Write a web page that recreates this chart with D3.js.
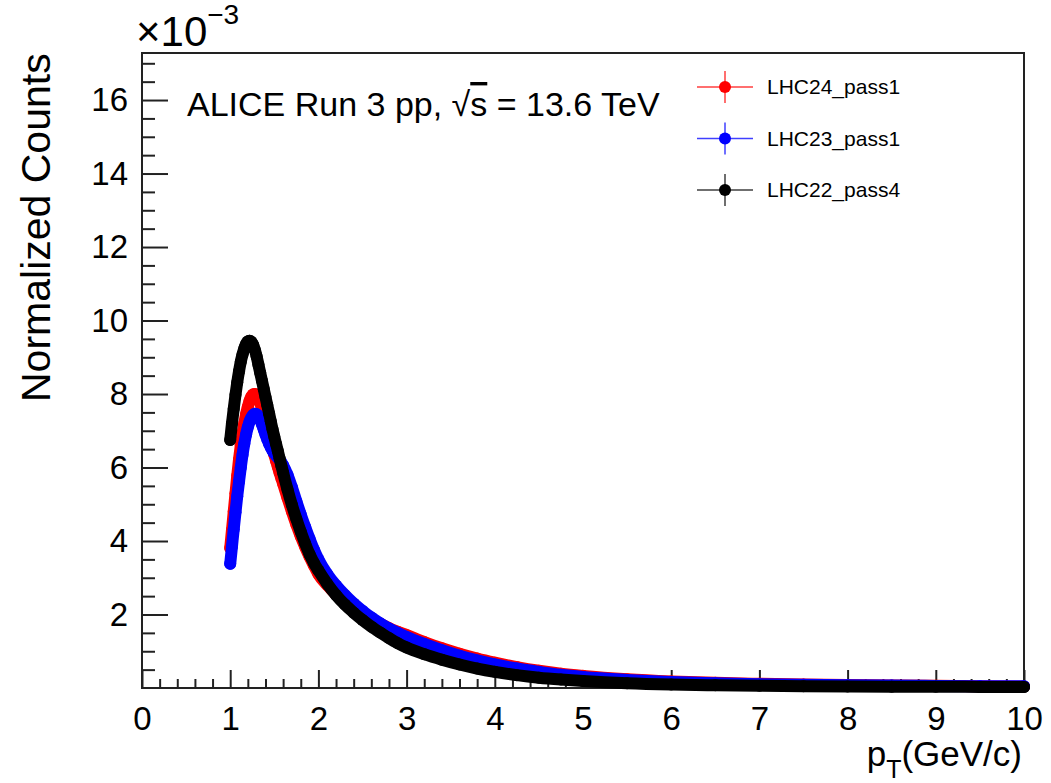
<!DOCTYPE html>
<html>
<head>
<meta charset="utf-8">
<script src="https://cdn.jsdelivr.net/npm/d3@7"></script>
<style>
  body { margin: 0; background: #fff; }
  svg { display: block; font-family: "Liberation Sans", Arial, sans-serif; }
</style>
</head>
<body>
<div id="chart"></div>
<script>
// pT bin centres (GeV/c) and normalized counts (units of 1e-3)
var pt = [1.00, 1.02, 1.04, 1.06, 1.08, 1.10, 1.12, 1.14, 1.16, 1.18, 1.20, 1.22, 1.24, 1.26, 1.28, 1.30,
    1.32, 1.34, 1.36, 1.38, 1.40, 1.42, 1.44, 1.46, 1.48, 1.50, 1.52, 1.54, 1.56, 1.58, 1.60,
    1.65, 1.70, 1.75, 1.80, 1.85, 1.90, 1.95, 2.0,
    2.1, 2.2, 2.3, 2.4, 2.5, 2.6, 2.7, 2.8, 2.9, 3.0,
    3.2, 3.4, 3.6, 3.8, 4.0, 4.25, 4.5, 4.75, 5.0,
    5.5, 6.0, 6.5, 7.0, 7.5, 8.0, 8.5, 9.0, 9.5, 10.0];

var lhc24 = [3.81, 4.3, 4.8, 5.3, 5.78, 6.22, 6.6, 6.92, 7.2, 7.45, 7.65, 7.82, 7.93, 7.99, 8.0, 7.96,
    7.88, 7.76, 7.6, 7.42, 7.24, 7.06, 6.88, 6.7, 6.52, 6.35, 6.18, 6.02, 5.86, 5.71, 5.56,
    5.17, 4.8, 4.45, 4.13, 3.84, 3.57, 3.33, 3.1,
    2.8, 2.55, 2.34, 2.16, 2.0, 1.87, 1.75, 1.63, 1.53, 1.44,
    1.25, 1.08, 0.93, 0.8, 0.69, 0.57, 0.47, 0.39, 0.33,
    0.24, 0.18, 0.14, 0.115, 0.095, 0.08, 0.068, 0.058, 0.05, 0.043];

var lhc23 = [3.38, 3.85, 4.32, 4.78, 5.22, 5.62, 6.0, 6.35, 6.65, 6.9, 7.1, 7.25, 7.36, 7.43, 7.46, 7.45,
    7.4, 7.3, 7.18, 7.04, 6.9, 6.77, 6.65, 6.55, 6.46, 6.39, 6.33, 6.27, 6.21, 6.14, 6.06,
    5.8, 5.46, 5.08, 4.72, 4.38, 4.06, 3.76, 3.5,
    3.1, 2.79, 2.53, 2.3, 2.1, 1.92, 1.76, 1.62, 1.5, 1.39,
    1.2, 1.03, 0.88, 0.75, 0.64, 0.53, 0.44, 0.36, 0.3,
    0.22, 0.165, 0.13, 0.105, 0.088, 0.075, 0.065, 0.057, 0.05, 0.045];

var lhc22 = [6.75, 7.2, 7.6, 7.98, 8.32, 8.62, 8.88, 9.08, 9.24, 9.36, 9.43, 9.45, 9.42, 9.34, 9.2, 9.02,
    8.8, 8.58, 8.36, 8.14, 7.92, 7.7, 7.48, 7.26, 7.04, 6.84, 6.64, 6.45, 6.25, 6.05, 5.86,
    5.4, 4.98, 4.6, 4.25, 3.93, 3.64, 3.4, 3.2,
    2.84, 2.53, 2.27, 2.05, 1.85, 1.67, 1.51, 1.36, 1.22, 1.1,
    0.92, 0.77, 0.64, 0.53, 0.44, 0.35, 0.28, 0.23, 0.19,
    0.13, 0.095, 0.075, 0.06, 0.05, 0.043, 0.037, 0.033, 0.03, 0.027];

var seriesNames = ["LHC24_pass1", "LHC23_pass1", "LHC22_pass4"];
var seriesColors = ["#ff0000", "#0000ff", "#000000"];
var seriesValues = [lhc24, lhc23, lhc22];

var xMajor = d3.range(0, 11, 1);
var yMajor = [2, 4, 6, 8, 10, 12, 14, 16];

var W = 1051, H = 783;
var frame = { left: 142, right: 1024, top: 53, bottom: 688 };

var svg = d3.select("#chart").append("svg")
    .attr("width", W)
    .attr("height", H);

var x = d3.scaleLinear().domain([0, 10]).range([frame.left, frame.right]);
var y = d3.scaleLinear().domain([0, 17.28]).range([frame.bottom, frame.top]);

// frame
svg.append("rect")
    .attr("x", frame.left).attr("y", frame.top)
    .attr("width", frame.right - frame.left)
    .attr("height", frame.bottom - frame.top)
    .attr("fill", "none")
    .attr("stroke", "#222")
    .attr("stroke-width", 2);

// minor ticks
var xMinor = d3.range(0, 10.001, 0.2).filter(function (d) { return Math.abs(d - Math.round(d)) > 1e-6; });
var yMinor = d3.range(0.5, 17.01, 0.5).filter(function (d) { return d % 2 !== 0; });

var gx = svg.append("g").attr("transform", "translate(0," + frame.bottom + ")");
gx.append("g").call(d3.axisBottom(x).tickValues(xMinor).tickSize(-9).tickFormat(""));
gx.append("g").call(d3.axisBottom(x).tickValues(xMajor).tickSize(-18).tickPadding(19).tickFormat(d3.format("d")));
gx.selectAll(".domain").remove();
gx.selectAll("line").attr("stroke", "#222").attr("stroke-width", 2);
gx.selectAll("text").attr("font-size", 33).attr("fill", "#000").attr("font-family", null);

var gy = svg.append("g").attr("transform", "translate(" + frame.left + ",0)");
gy.append("g").call(d3.axisLeft(y).tickValues(yMinor).tickSize(-13).tickFormat(""));
gy.append("g").call(d3.axisLeft(y).tickValues(yMajor).tickSize(-26).tickPadding(14).tickFormat(d3.format("d")));
gy.selectAll(".domain").remove();
gy.selectAll("line").attr("stroke", "#222").attr("stroke-width", 2);
gy.selectAll("text").attr("font-size", 33).attr("fill", "#000").attr("font-family", null);

// exponent label
var ex = svg.append("text").attr("x", 136).attr("y", 46).attr("font-size", 42);
ex.append("tspan").text("\u00d710");
ex.append("tspan").attr("font-size", 28).attr("dy", -22).text("\u22123");

// axis titles
svg.append("text")
    .attr("transform", "translate(50,402) rotate(-90)")
    .attr("font-size", 41)
    .text("Normalized Counts");

var xt = svg.append("text")
    .attr("x", 1022).attr("y", 766)
    .attr("text-anchor", "end")
    .attr("font-size", 35);
xt.append("tspan").text("p");
xt.append("tspan").attr("font-size", 25).attr("dy", 12).text("T");
xt.append("tspan").attr("dy", -12).text("(GeV/c)");

// data
var line = d3.line()
    .x(function (d) { return x(d[0]); })
    .y(function (d) { return y(d[1]); })
    .curve(d3.curveMonotoneX);

seriesValues.forEach(function (vals, i) {
    var pts = pt.map(function (p, j) { return [p, vals[j]]; });
    var g = svg.append("g");
    g.append("path")
        .datum(pts)
        .attr("fill", "none")
        .attr("stroke", seriesColors[i])
        .attr("stroke-width", 12)
        .attr("stroke-linecap", "round")
        .attr("stroke-linejoin", "round")
        .attr("d", line);
    g.selectAll("circle")
        .data(pts)
        .enter().append("circle")
        .attr("cx", function (d) { return x(d[0]); })
        .attr("cy", function (d) { return y(d[1]); })
        .attr("r", 6)
        .attr("fill", seriesColors[i]);
});

// caption
var cap = svg.append("text").attr("x", 187).attr("y", 116).attr("font-size", 34);
cap.append("tspan").text("ALICE Run 3 pp, ");
cap.append("tspan").text("\u221a");
cap.append("tspan").style("text-decoration", "overline").text("s");
cap.append("tspan").text(" = 13.6 TeV");

// legend
var legend = svg.append("g");
seriesNames.forEach(function (name, i) {
    var cy = 87 + i * 51.5;
    var lg = legend.append("g");
    lg.append("line")
        .attr("x1", 697).attr("x2", 753).attr("y1", cy).attr("y2", cy)
        .attr("stroke", seriesColors[i]).attr("stroke-width", 1.5).attr("opacity", 0.75);
    lg.append("line")
        .attr("x1", 725).attr("x2", 725).attr("y1", cy - 16).attr("y2", cy + 16)
        .attr("stroke", seriesColors[i]).attr("stroke-width", 1.5).attr("opacity", 0.75);
    lg.append("circle")
        .attr("cx", 725).attr("cy", cy).attr("r", 6)
        .attr("fill", seriesColors[i]);
    lg.append("text")
        .attr("x", 767).attr("y", cy + 7)
        .attr("font-size", 21)
        .text(name);
});
</script>
</body>
</html>
